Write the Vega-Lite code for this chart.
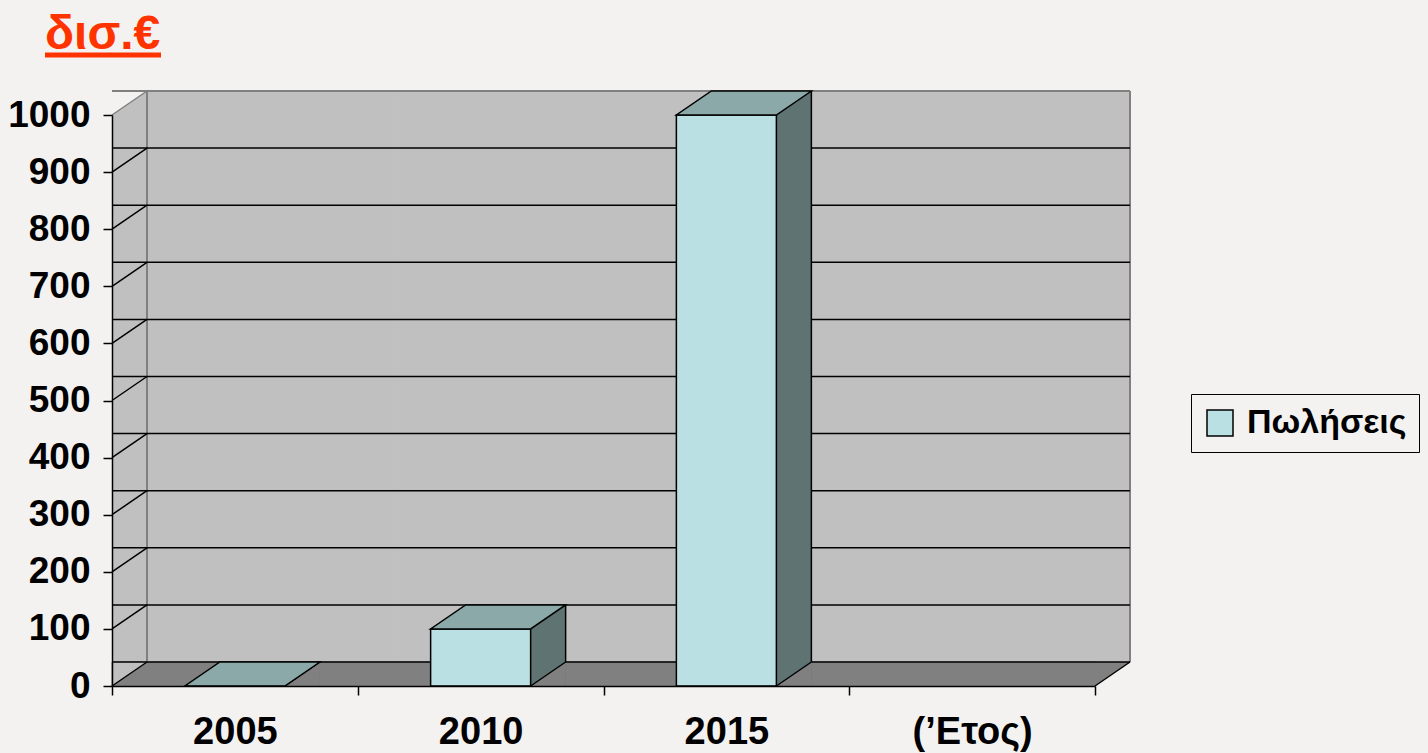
{
  "$schema": "https://vega.github.io/schema/vega-lite/v6.json",
  "width": 983,
  "height": 571,
  "autosize": {"type": "none"},
  "padding": {"left": 112, "top": 115, "right": 333, "bottom": 67},
  "background": "#f3f2f0",
  "config": {"view": {"stroke": null}, "font": "Liberation Sans"},
  "title": {
    "text": "δισ.€",
    "anchor": "start",
    "frame": "group",
    "dx": -67,
    "dy": 44,
    "offset": 30,
    "fontSize": 48,
    "fontWeight": "bold",
    "color": "#ff3300",
    "font": "Liberation Sans"
  },
  "datasets": {
    "sales": [
      {"year": "2005", "sales": 0},
      {"year": "2010", "sales": 100},
      {"year": "2015", "sales": 1000}
    ],
    "cats": [{"year": "2005"}, {"year": "2010"}, {"year": "2015"}, {"year": "(’Ετος)"}],
    "grid": [
      {"v": 0}, {"v": 100}, {"v": 200}, {"v": 300}, {"v": 400}, {"v": 500},
      {"v": 600}, {"v": 700}, {"v": 800}, {"v": 900}, {"v": 1000}
    ],
    "one": [{"k": 1}]
  },
  "layer": [
    {
      "data": {"name": "cats"},
      "mark": {"type": "bar", "width": {"band": 1}, "xOffset": 35, "yOffset": -24, "y2Offset": -24, "fill": "#c0c0c0", "stroke": "#c0c0c0", "strokeWidth": 1},
      "encoding": {
        "x": {"field": "year", "type": "nominal", "scale": {"domain": ["2005", "2010", "2015", "(’Ετος)"], "paddingInner": 0, "paddingOuter": 0}, "axis": {"title": null, "labelAngle": 0, "tickBand": "extent", "labelFontSize": 38, "labelFontWeight": "bold", "labelFont": "Liberation Sans", "labelColor": "black", "labelPadding": 18, "tickSize": 9, "tickColor": "black", "tickWidth": 1.5, "domainColor": "black", "domainWidth": 1.5, "grid": false, "zindex": 1}},
        "y": {"datum": 1000, "type": "quantitative", "scale": {"domain": [0, 1000], "nice": false}, "axis": {"title": null, "values": [0, 100, 200, 300, 400, 500, 600, 700, 800, 900, 1000], "format": "d", "labelFontSize": 37, "labelFontWeight": "bold", "labelFont": "Liberation Sans", "labelColor": "black", "labelPadding": 13, "labelOverlap": false, "tickSize": 9, "tickColor": "black", "tickWidth": 1.5, "domainColor": "black", "domainWidth": 1.5, "grid": false, "zindex": 1}},
        "y2": {"datum": 0}
      }
    },
    {
      "data": {"name": "one"},
      "mark": {"type": "rule", "stroke": "#c0c0c0", "strokeWidth": 35, "strokeCap": "butt", "xOffset": 17.5, "yOffset": -24},
      "encoding": {
        "x": {"datum": "2005", "type": "nominal", "bandPosition": 0, "scale": {"domain": ["2005", "2010", "2015", "(’Ετος)"], "paddingInner": 0, "paddingOuter": 0}, "axis": {"title": null, "labelAngle": 0, "tickBand": "extent", "labelFontSize": 38, "labelFontWeight": "bold", "labelFont": "Liberation Sans", "labelColor": "black", "labelPadding": 18, "tickSize": 9, "tickColor": "black", "tickWidth": 1.5, "domainColor": "black", "domainWidth": 1.5, "grid": false, "zindex": 1}},
        "y": {"datum": 1000, "type": "quantitative", "scale": {"domain": [0, 1000], "nice": false}, "axis": {"title": null, "values": [0, 100, 200, 300, 400, 500, 600, 700, 800, 900, 1000], "format": "d", "labelFontSize": 37, "labelFontWeight": "bold", "labelFont": "Liberation Sans", "labelColor": "black", "labelPadding": 13, "labelOverlap": false, "tickSize": 9, "tickColor": "black", "tickWidth": 1.5, "domainColor": "black", "domainWidth": 1.5, "grid": false, "zindex": 1}},
        "y2": {"datum": 0}
      }
    },
    {
      "data": {"name": "cats"},
      "mark": {"type": "bar", "width": {"band": 1}, "yOffset": -24, "fill": "#808080", "stroke": "#808080", "strokeWidth": 1},
      "encoding": {
        "x": {"field": "year", "type": "nominal", "scale": {"domain": ["2005", "2010", "2015", "(’Ετος)"], "paddingInner": 0, "paddingOuter": 0}, "axis": {"title": null, "labelAngle": 0, "tickBand": "extent", "labelFontSize": 38, "labelFontWeight": "bold", "labelFont": "Liberation Sans", "labelColor": "black", "labelPadding": 18, "tickSize": 9, "tickColor": "black", "tickWidth": 1.5, "domainColor": "black", "domainWidth": 1.5, "grid": false, "zindex": 1}},
        "y": {"datum": 0, "type": "quantitative", "scale": {"domain": [0, 1000], "nice": false}, "axis": {"title": null, "values": [0, 100, 200, 300, 400, 500, 600, 700, 800, 900, 1000], "format": "d", "labelFontSize": 37, "labelFontWeight": "bold", "labelFont": "Liberation Sans", "labelColor": "black", "labelPadding": 13, "labelOverlap": false, "tickSize": 9, "tickColor": "black", "tickWidth": 1.5, "domainColor": "black", "domainWidth": 1.5, "grid": false, "zindex": 1}},
        "y2": {"datum": 0}
      }
    },
    {
      "data": {"name": "one"},
      "mark": {"type": "point", "shape": "M0 0 L0 -24 L35 -24 Z", "size": 4, "filled": true, "fill": "#808080", "strokeWidth": 0, "opacity": 1},
      "encoding": {
        "x": {"datum": "(’Ετος)", "type": "nominal", "bandPosition": 1, "scale": {"domain": ["2005", "2010", "2015", "(’Ετος)"], "paddingInner": 0, "paddingOuter": 0}, "axis": {"title": null, "labelAngle": 0, "tickBand": "extent", "labelFontSize": 38, "labelFontWeight": "bold", "labelFont": "Liberation Sans", "labelColor": "black", "labelPadding": 18, "tickSize": 9, "tickColor": "black", "tickWidth": 1.5, "domainColor": "black", "domainWidth": 1.5, "grid": false, "zindex": 1}},
        "y": {"datum": 0, "type": "quantitative", "scale": {"domain": [0, 1000], "nice": false}, "axis": {"title": null, "values": [0, 100, 200, 300, 400, 500, 600, 700, 800, 900, 1000], "format": "d", "labelFontSize": 37, "labelFontWeight": "bold", "labelFont": "Liberation Sans", "labelColor": "black", "labelPadding": 13, "labelOverlap": false, "tickSize": 9, "tickColor": "black", "tickWidth": 1.5, "domainColor": "black", "domainWidth": 1.5, "grid": false, "zindex": 1}}
      }
    },
    {
      "data": {"name": "one"},
      "mark": {"type": "point", "shape": "M0 0 L0 -24 L35 -24 Z", "size": 4, "filled": true, "fill": "#c0c0c0", "strokeWidth": 0, "opacity": 1},
      "encoding": {
        "x": {"datum": "2005", "type": "nominal", "bandPosition": 0, "scale": {"domain": ["2005", "2010", "2015", "(’Ετος)"], "paddingInner": 0, "paddingOuter": 0}, "axis": {"title": null, "labelAngle": 0, "tickBand": "extent", "labelFontSize": 38, "labelFontWeight": "bold", "labelFont": "Liberation Sans", "labelColor": "black", "labelPadding": 18, "tickSize": 9, "tickColor": "black", "tickWidth": 1.5, "domainColor": "black", "domainWidth": 1.5, "grid": false, "zindex": 1}},
        "y": {"datum": 0, "type": "quantitative", "scale": {"domain": [0, 1000], "nice": false}, "axis": {"title": null, "values": [0, 100, 200, 300, 400, 500, 600, 700, 800, 900, 1000], "format": "d", "labelFontSize": 37, "labelFontWeight": "bold", "labelFont": "Liberation Sans", "labelColor": "black", "labelPadding": 13, "labelOverlap": false, "tickSize": 9, "tickColor": "black", "tickWidth": 1.5, "domainColor": "black", "domainWidth": 1.5, "grid": false, "zindex": 1}}
      }
    },
    {
      "data": {"name": "one"},
      "mark": {"type": "point", "shape": "M0 0 L0 -24 L35 -24 Z", "size": 4, "filled": true, "fill": "#f3f2f0", "strokeWidth": 0, "opacity": 1},
      "encoding": {
        "x": {"datum": "2005", "type": "nominal", "bandPosition": 0, "scale": {"domain": ["2005", "2010", "2015", "(’Ετος)"], "paddingInner": 0, "paddingOuter": 0}, "axis": {"title": null, "labelAngle": 0, "tickBand": "extent", "labelFontSize": 38, "labelFontWeight": "bold", "labelFont": "Liberation Sans", "labelColor": "black", "labelPadding": 18, "tickSize": 9, "tickColor": "black", "tickWidth": 1.5, "domainColor": "black", "domainWidth": 1.5, "grid": false, "zindex": 1}},
        "y": {"datum": 1000, "type": "quantitative", "scale": {"domain": [0, 1000], "nice": false}, "axis": {"title": null, "values": [0, 100, 200, 300, 400, 500, 600, 700, 800, 900, 1000], "format": "d", "labelFontSize": 37, "labelFontWeight": "bold", "labelFont": "Liberation Sans", "labelColor": "black", "labelPadding": 13, "labelOverlap": false, "tickSize": 9, "tickColor": "black", "tickWidth": 1.5, "domainColor": "black", "domainWidth": 1.5, "grid": false, "zindex": 1}}
      }
    },
    {
      "data": {"name": "one"},
      "mark": {"type": "point", "shape": "M0 0 L116 0", "size": 4, "filled": false, "stroke": "#ff3300", "strokeWidth": 5, "strokeCap": "butt", "xOffset": -67, "yOffset": -60, "opacity": 1},
      "encoding": {
        "x": {"datum": "2005", "type": "nominal", "bandPosition": 0, "scale": {"domain": ["2005", "2010", "2015", "(’Ετος)"], "paddingInner": 0, "paddingOuter": 0}, "axis": {"title": null, "labelAngle": 0, "tickBand": "extent", "labelFontSize": 38, "labelFontWeight": "bold", "labelFont": "Liberation Sans", "labelColor": "black", "labelPadding": 18, "tickSize": 9, "tickColor": "black", "tickWidth": 1.5, "domainColor": "black", "domainWidth": 1.5, "grid": false, "zindex": 1}},
        "y": {"datum": 1000, "type": "quantitative", "scale": {"domain": [0, 1000], "nice": false}, "axis": {"title": null, "values": [0, 100, 200, 300, 400, 500, 600, 700, 800, 900, 1000], "format": "d", "labelFontSize": 37, "labelFontWeight": "bold", "labelFont": "Liberation Sans", "labelColor": "black", "labelPadding": 13, "labelOverlap": false, "tickSize": 9, "tickColor": "black", "tickWidth": 1.5, "domainColor": "black", "domainWidth": 1.5, "grid": false, "zindex": 1}}
      }
    },
    {
      "data": {"name": "one"},
      "mark": {"type": "rule", "stroke": "#808080", "strokeWidth": 2, "xOffset": 35, "x2Offset": 35, "yOffset": -24},
      "encoding": {
        "y": {"datum": 1000, "type": "quantitative", "scale": {"domain": [0, 1000], "nice": false}, "axis": {"title": null, "values": [0, 100, 200, 300, 400, 500, 600, 700, 800, 900, 1000], "format": "d", "labelFontSize": 37, "labelFontWeight": "bold", "labelFont": "Liberation Sans", "labelColor": "black", "labelPadding": 13, "labelOverlap": false, "tickSize": 9, "tickColor": "black", "tickWidth": 1.5, "domainColor": "black", "domainWidth": 1.5, "grid": false, "zindex": 1}}
      }
    },
    {
      "data": {"name": "one"},
      "mark": {"type": "rule", "stroke": "#808080", "strokeWidth": 2, "xOffset": 35, "yOffset": -24, "y2Offset": -24},
      "encoding": {
        "x": {"datum": "2005", "type": "nominal", "bandPosition": 0, "scale": {"domain": ["2005", "2010", "2015", "(’Ετος)"], "paddingInner": 0, "paddingOuter": 0}, "axis": {"title": null, "labelAngle": 0, "tickBand": "extent", "labelFontSize": 38, "labelFontWeight": "bold", "labelFont": "Liberation Sans", "labelColor": "black", "labelPadding": 18, "tickSize": 9, "tickColor": "black", "tickWidth": 1.5, "domainColor": "black", "domainWidth": 1.5, "grid": false, "zindex": 1}},
        "y": {"datum": 1000, "type": "quantitative", "scale": {"domain": [0, 1000], "nice": false}, "axis": {"title": null, "values": [0, 100, 200, 300, 400, 500, 600, 700, 800, 900, 1000], "format": "d", "labelFontSize": 37, "labelFontWeight": "bold", "labelFont": "Liberation Sans", "labelColor": "black", "labelPadding": 13, "labelOverlap": false, "tickSize": 9, "tickColor": "black", "tickWidth": 1.5, "domainColor": "black", "domainWidth": 1.5, "grid": false, "zindex": 1}},
        "y2": {"datum": 0}
      }
    },
    {
      "data": {"name": "one"},
      "mark": {"type": "rule", "stroke": "#808080", "strokeWidth": 2, "xOffset": 35, "yOffset": -24, "y2Offset": -24},
      "encoding": {
        "x": {"datum": "(’Ετος)", "type": "nominal", "bandPosition": 1, "scale": {"domain": ["2005", "2010", "2015", "(’Ετος)"], "paddingInner": 0, "paddingOuter": 0}, "axis": {"title": null, "labelAngle": 0, "tickBand": "extent", "labelFontSize": 38, "labelFontWeight": "bold", "labelFont": "Liberation Sans", "labelColor": "black", "labelPadding": 18, "tickSize": 9, "tickColor": "black", "tickWidth": 1.5, "domainColor": "black", "domainWidth": 1.5, "grid": false, "zindex": 1}},
        "y": {"datum": 1000, "type": "quantitative", "scale": {"domain": [0, 1000], "nice": false}, "axis": {"title": null, "values": [0, 100, 200, 300, 400, 500, 600, 700, 800, 900, 1000], "format": "d", "labelFontSize": 37, "labelFontWeight": "bold", "labelFont": "Liberation Sans", "labelColor": "black", "labelPadding": 13, "labelOverlap": false, "tickSize": 9, "tickColor": "black", "tickWidth": 1.5, "domainColor": "black", "domainWidth": 1.5, "grid": false, "zindex": 1}},
        "y2": {"datum": 0}
      }
    },
    {
      "data": {"name": "grid"},
      "transform": [{"filter": "datum.v < 1000"}],
      "mark": {"type": "rule", "stroke": "black", "strokeWidth": 1.5, "xOffset": 35, "x2Offset": 35, "yOffset": -24},
      "encoding": {
        "y": {"field": "v", "type": "quantitative", "scale": {"domain": [0, 1000], "nice": false}, "axis": {"title": null, "values": [0, 100, 200, 300, 400, 500, 600, 700, 800, 900, 1000], "format": "d", "labelFontSize": 37, "labelFontWeight": "bold", "labelFont": "Liberation Sans", "labelColor": "black", "labelPadding": 13, "labelOverlap": false, "tickSize": 9, "tickColor": "black", "tickWidth": 1.5, "domainColor": "black", "domainWidth": 1.5, "grid": false, "zindex": 1}}
      }
    },
    {
      "data": {"name": "grid"},
      "mark": {"type": "point", "shape": "M0 0 L35 -24", "size": 4, "filled": false, "strokeWidth": 1.5, "opacity": 1},
      "encoding": {
        "x": {"datum": "2005", "type": "nominal", "bandPosition": 0, "scale": {"domain": ["2005", "2010", "2015", "(’Ετος)"], "paddingInner": 0, "paddingOuter": 0}, "axis": {"title": null, "labelAngle": 0, "tickBand": "extent", "labelFontSize": 38, "labelFontWeight": "bold", "labelFont": "Liberation Sans", "labelColor": "black", "labelPadding": 18, "tickSize": 9, "tickColor": "black", "tickWidth": 1.5, "domainColor": "black", "domainWidth": 1.5, "grid": false, "zindex": 1}},
        "y": {"field": "v", "type": "quantitative", "scale": {"domain": [0, 1000], "nice": false}, "axis": {"title": null, "values": [0, 100, 200, 300, 400, 500, 600, 700, 800, 900, 1000], "format": "d", "labelFontSize": 37, "labelFontWeight": "bold", "labelFont": "Liberation Sans", "labelColor": "black", "labelPadding": 13, "labelOverlap": false, "tickSize": 9, "tickColor": "black", "tickWidth": 1.5, "domainColor": "black", "domainWidth": 1.5, "grid": false, "zindex": 1}},
        "stroke": {"condition": {"test": "datum.v == 1000", "value": "#808080"}, "value": "black"}
      }
    },
    {
      "data": {"name": "one"},
      "mark": {"type": "point", "shape": "M0 0 L35 -24", "size": 4, "filled": false, "stroke": "black", "strokeWidth": 1.5, "opacity": 1},
      "encoding": {
        "x": {"datum": "(’Ετος)", "type": "nominal", "bandPosition": 1, "scale": {"domain": ["2005", "2010", "2015", "(’Ετος)"], "paddingInner": 0, "paddingOuter": 0}, "axis": {"title": null, "labelAngle": 0, "tickBand": "extent", "labelFontSize": 38, "labelFontWeight": "bold", "labelFont": "Liberation Sans", "labelColor": "black", "labelPadding": 18, "tickSize": 9, "tickColor": "black", "tickWidth": 1.5, "domainColor": "black", "domainWidth": 1.5, "grid": false, "zindex": 1}},
        "y": {"datum": 0, "type": "quantitative", "scale": {"domain": [0, 1000], "nice": false}, "axis": {"title": null, "values": [0, 100, 200, 300, 400, 500, 600, 700, 800, 900, 1000], "format": "d", "labelFontSize": 37, "labelFontWeight": "bold", "labelFont": "Liberation Sans", "labelColor": "black", "labelPadding": 13, "labelOverlap": false, "tickSize": 9, "tickColor": "black", "tickWidth": 1.5, "domainColor": "black", "domainWidth": 1.5, "grid": false, "zindex": 1}}
      }
    },
    {
      "data": {"name": "sales"},
      "mark": {"type": "bar", "width": 35, "xOffset": 67.5, "yOffset": -24, "fill": "#5f7373", "strokeWidth": 0},
      "encoding": {
        "x": {"field": "year", "type": "nominal", "scale": {"domain": ["2005", "2010", "2015", "(’Ετος)"], "paddingInner": 0, "paddingOuter": 0}, "axis": {"title": null, "labelAngle": 0, "tickBand": "extent", "labelFontSize": 38, "labelFontWeight": "bold", "labelFont": "Liberation Sans", "labelColor": "black", "labelPadding": 18, "tickSize": 9, "tickColor": "black", "tickWidth": 1.5, "domainColor": "black", "domainWidth": 1.5, "grid": false, "zindex": 1}},
        "y": {"field": "sales", "type": "quantitative", "scale": {"domain": [0, 1000], "nice": false}, "axis": {"title": null, "values": [0, 100, 200, 300, 400, 500, 600, 700, 800, 900, 1000], "format": "d", "labelFontSize": 37, "labelFontWeight": "bold", "labelFont": "Liberation Sans", "labelColor": "black", "labelPadding": 13, "labelOverlap": false, "tickSize": 9, "tickColor": "black", "tickWidth": 1.5, "domainColor": "black", "domainWidth": 1.5, "grid": false, "zindex": 1}},
        "y2": {"datum": 0}
      }
    },
    {
      "data": {"name": "sales"},
      "mark": {"type": "point", "shape": "M0 0 L35 0 L35 -24 Z", "size": 4, "filled": true, "fill": "#808080", "strokeWidth": 0, "xOffset": 50, "opacity": 1},
      "encoding": {
        "x": {"field": "year", "type": "nominal", "scale": {"domain": ["2005", "2010", "2015", "(’Ετος)"], "paddingInner": 0, "paddingOuter": 0}, "axis": {"title": null, "labelAngle": 0, "tickBand": "extent", "labelFontSize": 38, "labelFontWeight": "bold", "labelFont": "Liberation Sans", "labelColor": "black", "labelPadding": 18, "tickSize": 9, "tickColor": "black", "tickWidth": 1.5, "domainColor": "black", "domainWidth": 1.5, "grid": false, "zindex": 1}},
        "y": {"datum": 0, "type": "quantitative", "scale": {"domain": [0, 1000], "nice": false}, "axis": {"title": null, "values": [0, 100, 200, 300, 400, 500, 600, 700, 800, 900, 1000], "format": "d", "labelFontSize": 37, "labelFontWeight": "bold", "labelFont": "Liberation Sans", "labelColor": "black", "labelPadding": 13, "labelOverlap": false, "tickSize": 9, "tickColor": "black", "tickWidth": 1.5, "domainColor": "black", "domainWidth": 1.5, "grid": false, "zindex": 1}}
      }
    },
    {
      "data": {"name": "sales"},
      "mark": {"type": "point", "shape": "M0 0 L35 -24", "size": 4, "filled": false, "stroke": "black", "strokeWidth": 1.5, "xOffset": 50, "opacity": 1},
      "encoding": {
        "x": {"field": "year", "type": "nominal", "scale": {"domain": ["2005", "2010", "2015", "(’Ετος)"], "paddingInner": 0, "paddingOuter": 0}, "axis": {"title": null, "labelAngle": 0, "tickBand": "extent", "labelFontSize": 38, "labelFontWeight": "bold", "labelFont": "Liberation Sans", "labelColor": "black", "labelPadding": 18, "tickSize": 9, "tickColor": "black", "tickWidth": 1.5, "domainColor": "black", "domainWidth": 1.5, "grid": false, "zindex": 1}},
        "y": {"datum": 0, "type": "quantitative", "scale": {"domain": [0, 1000], "nice": false}, "axis": {"title": null, "values": [0, 100, 200, 300, 400, 500, 600, 700, 800, 900, 1000], "format": "d", "labelFontSize": 37, "labelFontWeight": "bold", "labelFont": "Liberation Sans", "labelColor": "black", "labelPadding": 13, "labelOverlap": false, "tickSize": 9, "tickColor": "black", "tickWidth": 1.5, "domainColor": "black", "domainWidth": 1.5, "grid": false, "zindex": 1}}
      }
    },
    {
      "data": {"name": "sales"},
      "mark": {"type": "rule", "stroke": "black", "strokeWidth": 1.5, "xOffset": 85, "yOffset": -24, "y2Offset": -24},
      "encoding": {
        "x": {"field": "year", "type": "nominal", "scale": {"domain": ["2005", "2010", "2015", "(’Ετος)"], "paddingInner": 0, "paddingOuter": 0}, "axis": {"title": null, "labelAngle": 0, "tickBand": "extent", "labelFontSize": 38, "labelFontWeight": "bold", "labelFont": "Liberation Sans", "labelColor": "black", "labelPadding": 18, "tickSize": 9, "tickColor": "black", "tickWidth": 1.5, "domainColor": "black", "domainWidth": 1.5, "grid": false, "zindex": 1}},
        "y": {"field": "sales", "type": "quantitative", "scale": {"domain": [0, 1000], "nice": false}, "axis": {"title": null, "values": [0, 100, 200, 300, 400, 500, 600, 700, 800, 900, 1000], "format": "d", "labelFontSize": 37, "labelFontWeight": "bold", "labelFont": "Liberation Sans", "labelColor": "black", "labelPadding": 13, "labelOverlap": false, "tickSize": 9, "tickColor": "black", "tickWidth": 1.5, "domainColor": "black", "domainWidth": 1.5, "grid": false, "zindex": 1}},
        "y2": {"datum": 0}
      }
    },
    {
      "data": {"name": "sales"},
      "mark": {"type": "bar", "width": 100, "stroke": "black", "strokeWidth": 1.5},
      "encoding": {
        "x": {"field": "year", "type": "nominal", "scale": {"domain": ["2005", "2010", "2015", "(’Ετος)"], "paddingInner": 0, "paddingOuter": 0}, "axis": {"title": null, "labelAngle": 0, "tickBand": "extent", "labelFontSize": 38, "labelFontWeight": "bold", "labelFont": "Liberation Sans", "labelColor": "black", "labelPadding": 18, "tickSize": 9, "tickColor": "black", "tickWidth": 1.5, "domainColor": "black", "domainWidth": 1.5, "grid": false, "zindex": 1}},
        "y": {"field": "sales", "type": "quantitative", "scale": {"domain": [0, 1000], "nice": false}, "axis": {"title": null, "values": [0, 100, 200, 300, 400, 500, 600, 700, 800, 900, 1000], "format": "d", "labelFontSize": 37, "labelFontWeight": "bold", "labelFont": "Liberation Sans", "labelColor": "black", "labelPadding": 13, "labelOverlap": false, "tickSize": 9, "tickColor": "black", "tickWidth": 1.5, "domainColor": "black", "domainWidth": 1.5, "grid": false, "zindex": 1}},
        "y2": {"datum": 0},
        "fill": {
          "datum": "Πωλήσεις", "type": "nominal",
          "scale": {"range": ["#bbe0e3"]},
          "legend": {
            "title": null, "orient": "none", "legendX": 1079, "legendY": 279, "padding": 12,
            "strokeColor": "black", "symbolType": "square", "symbolSize": 676, "symbolStrokeColor": "black",
            "symbolStrokeWidth": 1.5, "labelFontSize": 34, "labelFontWeight": "bold", "labelFont": "Liberation Sans",
            "labelColor": "black", "labelOffset": 10
          }
        }
      }
    },
    {
      "data": {"name": "sales"},
      "mark": {"type": "point", "shape": "M0 0 L100 0 L135 -24 L35 -24 Z", "size": 4, "filled": true, "fill": "#8ca9aa", "stroke": "black", "strokeWidth": 1.5, "xOffset": -50, "opacity": 1},
      "encoding": {
        "x": {"field": "year", "type": "nominal", "scale": {"domain": ["2005", "2010", "2015", "(’Ετος)"], "paddingInner": 0, "paddingOuter": 0}, "axis": {"title": null, "labelAngle": 0, "tickBand": "extent", "labelFontSize": 38, "labelFontWeight": "bold", "labelFont": "Liberation Sans", "labelColor": "black", "labelPadding": 18, "tickSize": 9, "tickColor": "black", "tickWidth": 1.5, "domainColor": "black", "domainWidth": 1.5, "grid": false, "zindex": 1}},
        "y": {"field": "sales", "type": "quantitative", "scale": {"domain": [0, 1000], "nice": false}, "axis": {"title": null, "values": [0, 100, 200, 300, 400, 500, 600, 700, 800, 900, 1000], "format": "d", "labelFontSize": 37, "labelFontWeight": "bold", "labelFont": "Liberation Sans", "labelColor": "black", "labelPadding": 13, "labelOverlap": false, "tickSize": 9, "tickColor": "black", "tickWidth": 1.5, "domainColor": "black", "domainWidth": 1.5, "grid": false, "zindex": 1}}
      }
    }
  ]
}
